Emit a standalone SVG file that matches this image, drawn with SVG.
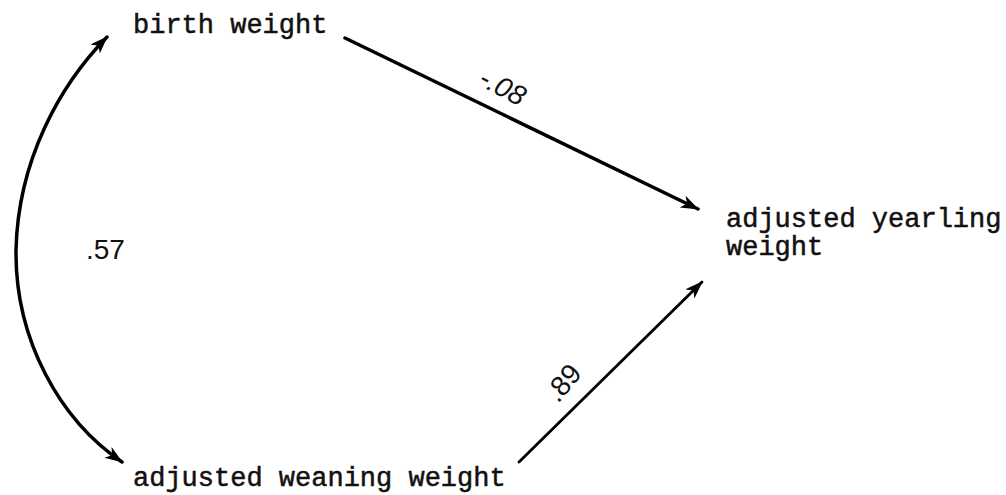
<svg xmlns="http://www.w3.org/2000/svg" width="1006" height="495" viewBox="0 0 1006 495">
<defs>
<style>
.lbl{font-family:"Liberation Mono","DejaVu Sans Mono",monospace;font-size:27px;fill:#111;stroke:#111;stroke-width:0.5}
.coef{font-family:"Liberation Sans","DejaVu Sans",sans-serif;font-size:28px;fill:#111}
.ln{fill:none;stroke:#000;stroke-linecap:round}
</style>
<marker id="ah" viewBox="0 0 18 13" refX="17" refY="6.5" markerWidth="18" markerHeight="13" markerUnits="userSpaceOnUse" orient="auto-start-reverse">
<path d="M0,0 L18,6.5 L0,13 L5,6.5 z" fill="#000"/>
</marker>
</defs>
<rect width="1006" height="495" fill="#fff"/>
<g id="connectors">
<path class="ln" d="M345,38 L698,209" stroke-width="3.5" marker-end="url(#ah)"/>
<path class="ln" d="M519,462 L702,282" stroke-width="2.8" marker-end="url(#ah)"/>
<path class="ln" d="M107,37 C60,85 18,160 16,250 C15,340 60,420 122,462" stroke-width="3.5" marker-start="url(#ah)" marker-end="url(#ah)"/>
<text class="coef" x="86" y="259">.57</text>
<text class="coef" font-style="italic" transform="translate(477,84) rotate(28)">-.08</text>
<text class="coef" transform="translate(558,404) rotate(-50)">.89</text>
</g>
<g id="birth-weight">
<text class="lbl" x="133" y="33">birth weight</text>
</g>
<g id="adjusted-yearling-weight">
<text class="lbl" x="726" y="227">adjusted yearling</text>
<text class="lbl" x="726" y="255">weight</text>
</g>
<g id="adjusted-weaning-weight">
<text class="lbl" x="133" y="486">adjusted weaning weight</text>
</g>
</svg>
